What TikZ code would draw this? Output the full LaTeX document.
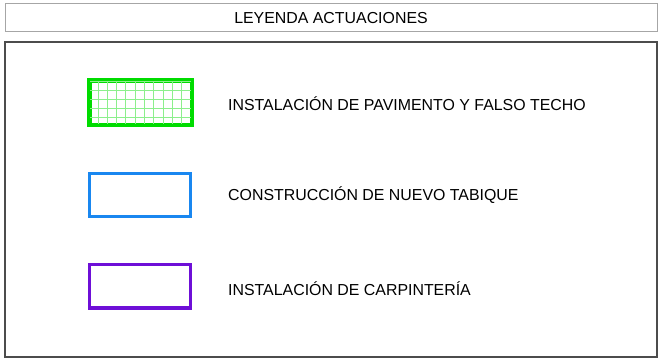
\documentclass[tikz,border=0pt]{standalone}
\usepackage{fontspec}
\setmainfont{Liberation Sans}
\usetikzlibrary{positioning}
\definecolor{verdeact}{RGB}{0,220,0}
\definecolor{azulact}{RGB}{25,135,240}
\definecolor{moradoact}{RGB}{110,15,215}
\begin{document}
\begin{tikzpicture}[x=1pt,y=-1pt,
		marco/.style={draw,inner sep=0pt,minimum width=652pt},
		muestra/.style={draw,line width=3pt,inner sep=0pt,minimum width=101pt,minimum height=43pt},
		etiqueta/.style={font=\fontsize{15.9}{18}\selectfont,inner sep=0pt}]
		\useasboundingbox (0,0) rectangle (659,358);
		
		% cabecera y marco
		\node[marco,draw=gray!70,line width=1pt,minimum height=28pt,etiqueta] (titulo) at (331,18) {LEYENDA ACTUACIONES};
		\node[marco,draw=black!70,line width=1.2pt,minimum height=315pt] (leyenda) at (331,199.5) {};
		
		% muestras
		\node[muestra,draw=verdeact] (pavimento) at (140.5,103) {};
		\begin{scope}
			\clip (pavimento.south west) rectangle (pavimento.north east);
			\draw[verdeact!45,line width=0.6pt,xstep=9.3pt,ystep=9pt,shift={(pavimento.south west)}] (0,0) grid (110,-50);
		\end{scope}
		\draw[verdeact,line width=3pt] (pavimento.south west) rectangle (pavimento.north east);
		\node[muestra,draw=azulact] (tabique) at (140,195) {};
		\node[muestra,draw=moradoact] (carpinteria) at (140,286.5) {};
		
		% textos
		\node[etiqueta,anchor=west] at (228,104) {INSTALACIÓN DE PAVIMENTO Y FALSO TECHO};
		\node[etiqueta,anchor=west] at (228,195) {CONSTRUCCIÓN DE NUEVO TABIQUE};
		\node[etiqueta,anchor=west] at (228,289) {INSTALACIÓN DE CARPINTERÍA};
	\end{tikzpicture}
\end{document}
